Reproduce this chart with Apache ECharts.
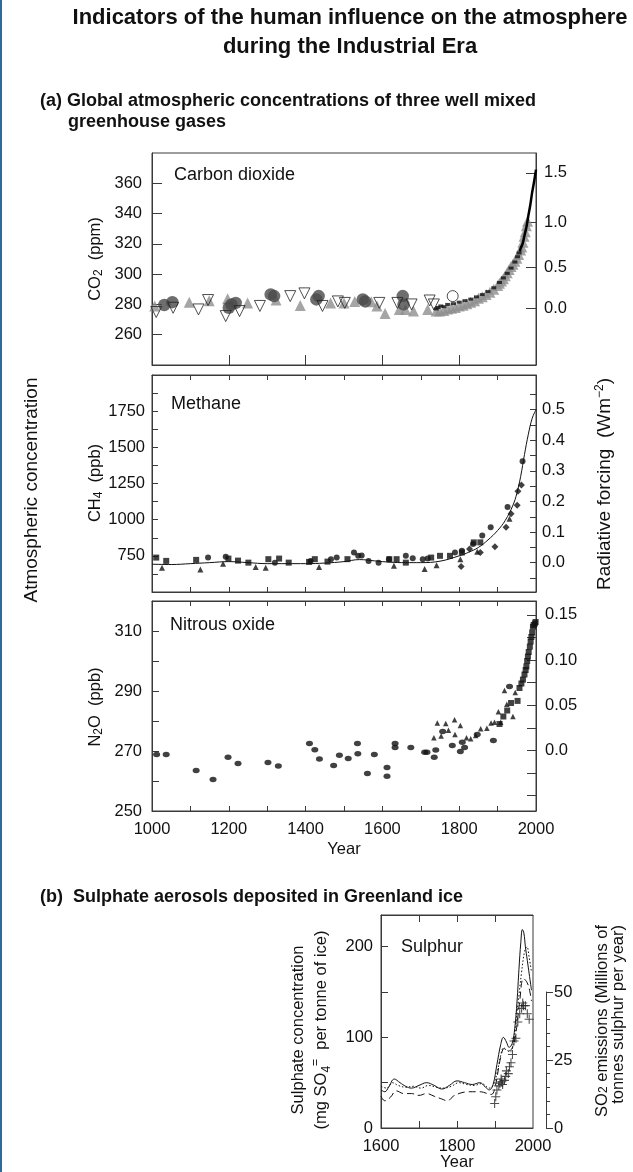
<!DOCTYPE html>
<html><head><meta charset="utf-8">
<script src="https://cdn.jsdelivr.net/npm/echarts@6/dist/echarts.min.js"></script>
<style>html,body{margin:0;padding:0;background:#fff}#c{width:633px;height:1172px}</style>
</head><body><div id="c"></div>
<script>
const FONT = '"Liberation Sans", Arial, Helvetica, sans-serif';

// ---------- axis ranges & tick labels ----------
const yearRange = [1000, 2000];
const co2Range = [240, 380];
const ch4Range = [500, 2000];
const n2oRange = [250, 320];
const sulYearRange = [1600, 2000];
const sulRange = [0, 235];
const so2Range = [0, 50];

const yearLabels = [1000, 1200, 1400, 1600, 1800, 2000];
const yearTicks = [1100, 1200, 1300, 1400, 1500, 1600, 1700, 1800, 1900];
const co2YearTicks = [1200, 1400, 1600, 1800];
const co2Labels = [260, 280, 300, 320, 340, 360];
const co2ForcingLabels = [0, 0.5, 1.0, 1.5];
const ch4Labels = [750, 1000, 1250, 1500, 1750];
const ch4Ticks = [625, 750, 875, 1000, 1125, 1250, 1375, 1500, 1625, 1750, 1875];
const ch4ForcingLabels = [0, 0.1, 0.2, 0.3, 0.4, 0.5];
const ch4ForcingTicks = [-0.05, 0, 0.05, 0.1, 0.15, 0.2, 0.25, 0.3, 0.35, 0.4, 0.45, 0.5, 0.55];
const n2oLabels = [250, 270, 290, 310];
const n2oTicks = [260, 270, 280, 290, 300, 310];
const n2oForcingLabels = [0, 0.05, 0.10, 0.15];
const n2oForcingTicks = [-0.05, -0.025, 0, 0.025, 0.05, 0.075, 0.1, 0.125, 0.15];
const sulYearLabels = [1600, 1800, 2000];
const sulYearTicks = [1700, 1800, 1900];
const sulLabels = [0, 100, 200];
const sulTicks = [50, 100, 150, 200];

// radiative forcing relations
const CO2_REF = 277.2;                       // ppm at 0 W/m2
const co2FromForcing = f => CO2_REF * Math.exp(f / 5.35);
const co2ToForcing = c => 5.35 * Math.log(c / CO2_REF);
const ch4ToForcing = m => (m - 703) / 2114;
const n2oToForcing = n => (n - 270.2) * 0.00332;
const SO2_PER_SULPHATE = 1 / 3;              // right scale 50 <-> left 150

// ---------- CO2 (ppm) ----------
const co2DarkCircles = [[1032,279.6],[1053,281.5],[1200,277.8],[1207,280],[1218,281],[1309,286.6],[1318,285.5],[1428,283.3],[1434,285.5],[1549,283.3],[1555,282],[1653,285.5],[1655,280]];
const co2OpenTriangles = [[1011,275],[1055,277.8],[1121,276.7],[1146,282.9],[1192,272.3],[1228,275.6],[1281,279],[1360,285.5],[1397,287.3],[1444,279],[1484,282],[1502,281],[1592,281],[1639,281],[1676,280],[1723,282.6],[1734,280]];
const co2GreyTriangles = [[1007,279],[1097,281.5],[1149,282.4],[1197,283.7],[1249,281],[1323,282.9],[1386,279.3],[1465,281],[1500,281],[1528,282],[1571,281.8],[1586,279],[1607,274],[1644,276.7],[1660,276.7],[1681,275.6],[1718,276.7],[1740,275.6],[1749,275.6],[1760,276],[1770,277],[1780,277.5],[1790,278],[1800,279],[1810,279.5],[1820,280.5],[1830,281.5],[1840,282.5],[1850,284],[1860,285],[1870,286.5],[1880,288],[1890,290],[1900,292.5],[1905,294],[1910,295.5],[1915,297],[1920,299],[1925,301],[1930,303],[1935,305],[1940,306.5],[1945,308.5],[1950,310.5],[1955,313],[1960,316],[1963,318],[1966,321],[1969,325],[1972,328],[1975,332],[1978,335]];
const co2OpenCircles = [[1783,285.5]];
const co2BlackMarks = [[1740,277],[1745,278],[1752,279],[1760,278.5],[1770,280],[1785,280.5],[1800,281.5],[1815,282.5],[1830,283.5],[1845,285],[1860,286.5],[1875,288.5],[1890,291],[1905,294.5],[1915,297.5],[1925,300.5],[1935,304],[1945,308],[1952,311.5],[1956,314]];
const co2MaunaLoa = [[1958,315],[1960,317],[1965,320],[1970,325.5],[1975,331],[1980,338.5],[1985,345.5],[1990,354],[1995,361],[2000,369]];

// ---------- CH4 (ppb) ----------
const ch4Squares = [[1011,738],[1037,715],[1115,722],[1199,731],[1224,717],[1251,703],[1303,727],[1331,731],[1356,703],[1409,708],[1424,727],[1457,710],[1509,727],[1618,727],[1637,727],[1661,703],[1727,738],[1750,750],[1776,750],[1807,773],[1838,843],[1855,843]];
const ch4Circles = [[1146,738],[1192,743],[1320,703],[1413,715],[1466,727],[1481,738],[1526,773],[1537,750],[1546,752],[1564,715],[1590,703],[1617,727],[1661,750],[1679,734],[1705,727],[1718,731],[1789,773],[1807,785],[1836,832],[1860,890],[1882,948],[1926,1088],[1965,1404]];
const ch4Triangles = [[1026,668],[1126,656],[1185,696],[1270,673],[1296,668],[1435,673],[1630,682],[1710,659],[1741,685],[1803,727],[1847,778],[1931,1006]];
const ch4Diamonds = [[1805,677],[1827,797],[1855,773],[1893,813],[1922,948],[1935,1041],[1951,1099],[1953,1197],[1962,1240]];
const ch4Fit = [[1000,692],[1050,690],[1100,696],[1150,703],[1200,710],[1250,703],[1300,696],[1350,696],[1400,696],[1450,700],[1500,710],[1540,724],[1580,715],[1620,706],[1660,703],[1700,703],[1750,713],[1800,750],[1825,775],[1850,808],[1875,860],[1900,925],[1920,995],[1940,1100],[1950,1181],[1960,1298],[1970,1450],[1980,1590],[1990,1700],[2000,1760]];

// ---------- N2O (ppb) ----------
const n2oCircles = [[1012,268.8],[1037,268.8],[1115,263.5],[1159,260.5],[1198,267.9],[1224,265.8],[1302,266.2],[1329,265],[1410,272.5],[1424,270.4],[1436,267.3],[1473,265.2],[1488,268.6],[1511,267.5],[1535,272.5],[1536,269.1],[1561,262.5],[1579,268.8],[1612,264.5],[1612,261.6],[1633,272.5],[1633,271.2],[1674,271.2],[1710,269.6],[1716,269.6],[1735,267.9],[1739,270.3],[1757,276.5],[1782,271.8],[1803,269.8],[1808,272.9],[1814,271.2],[1847,275.5],[1889,273.5],[1931,291.5]];
const n2oTriangles = [[1734,274.4],[1743,279.3],[1753,275],[1765,279.2],[1772,276.9],[1788,280.4],[1789,275.5],[1803,278.5],[1819,274.4],[1830,274.1],[1843,275.2],[1856,277.4],[1872,277.6],[1883,279.3],[1892,279.6],[1902,283.1],[1908,279.6],[1918,290.2],[1924,285.6],[1940,281.5],[1946,289.5]];
const n2oSquares = [[1905,279],[1915,281.5],[1925,283.5],[1935,286],[1952,286.7],[1957,291],[1962,292.5],[1966,293.8],[1970,295.5],[1973,297],[1975,298.2],[1977,300],[1979,301.5],[1981,303],[1984,304.8],[1986,306.5],[1988,308],[1990,309.5],[1992,311.4],[1994,312],[1997,312.5],[1999,313]];

// ---------- Sulphate (mg SO4 per tonne of ice) ----------
const sulSolid = [[1600,42],[1610,40],[1620,45],[1635,54],[1650,50],[1665,46],[1680,44],[1700,47],[1720,50],[1740,47],[1760,43],[1780,47],[1800,52],[1820,50],[1840,48],[1860,50],[1875,45],[1885,42],[1895,48],[1905,70],[1915,92],[1922,100],[1930,95],[1937,89],[1945,93],[1952,110],[1958,140],[1963,175],[1968,205],[1972,219],[1976,215],[1980,200],[1985,185],[1990,170],[1996,152]];
const sulDotted = [[1600,46],[1615,44],[1630,50],[1645,47],[1665,45],[1685,46],[1705,44],[1725,47],[1745,45],[1765,44],[1785,46],[1805,50],[1825,48],[1845,47],[1865,49],[1885,44],[1895,47],[1905,60],[1915,80],[1922,88],[1930,86],[1940,84],[1950,98],[1960,135],[1970,172],[1978,195],[1984,200],[1990,188],[1996,172]];
const sulDashed = [[1600,35],[1610,30],[1625,34],[1640,41],[1660,38],[1680,38],[1700,36],[1720,38],[1740,35],[1760,32],[1775,30],[1790,35],[1805,38],[1830,40],[1860,40],[1890,37],[1900,45],[1915,78],[1925,88],[1935,85],[1945,88],[1955,105],[1965,140],[1975,165],[1985,160],[1992,150],[1996,140]];
// SO2 emissions (millions of tonnes sulphur per year, right scale)
const so2Emissions = [[1899,9],[1902,11.5],[1905,14],[1910,15.5],[1913,16.5],[1916,18],[1918,17],[1920,16],[1925,17.5],[1928,19],[1930,21],[1935,20],[1938,22.5],[1942,24],[1946,27],[1950,32],[1955,33],[1960,39],[1965,42],[1970,44],[1973,46],[1975,45],[1980,45],[1985,42],[1990,40]];

// ---------- chart ----------
const BLACK = '#111';
const FRAME = '#3a3a3a';
const TICK_FS = 16.5;
const plain = v => String(v);

function gridBox(left, top, width, height) {
  return { left, top, width, height, show: true, borderColor: FRAME, borderWidth: 1, backgroundColor: 'transparent', containLabel: false };
}
function xAx(gridIndex, range, ticks, tickLen, labels, position) {
  return {
    type: 'value', gridIndex, min: range[0], max: range[1], position: position || 'bottom',
    axisLine: { show: true, onZero: false, lineStyle: { color: FRAME, width: 1 } },
    axisTick: { show: true, inside: true, length: tickLen, customValues: ticks, lineStyle: { color: FRAME } },
    axisLabel: labels ? { show: true, customValues: labels, margin: 10, color: BLACK, fontSize: TICK_FS, fontFamily: FONT, formatter: plain } : { show: false },
    splitLine: { show: false }
  };
}
function yAx(gridIndex, range, ticks, tickLen, labels, position, fmt, margin) {
  return {
    type: 'value', gridIndex, min: range[0], max: range[1], position: position || 'left',
    axisLine: { show: true, onZero: false, lineStyle: { color: FRAME, width: 1 } },
    axisTick: { show: true, inside: true, length: tickLen, customValues: ticks, lineStyle: { color: FRAME } },
    axisLabel: { show: true, customValues: labels, margin: margin == null ? 10 : margin, color: BLACK, fontSize: TICK_FS, fontFamily: FONT, formatter: fmt || plain },
    splitLine: { show: false }
  };
}
const fmt1 = v => Math.abs(v) < 1e-9 ? '0.0' : (Math.round(v * 10) / 10).toFixed(1);
const fmtN2O = v => Math.abs(v) < 1e-9 ? '0.0' : v.toFixed(2);

const co2ForcingTicksPpm = co2ForcingLabels.map(co2FromForcing);
const ch4ForcingRange = ch4Range.map(ch4ToForcing);
const n2oForcingRange = n2oRange.map(n2oToForcing);
const so2HiddenRange = sulRange.map(v => v * SO2_PER_SULPHATE);

function sc(name, x, y, data, symbol, size, color, extra) {
  return Object.assign({ type: 'scatter', name, xAxisIndex: x, yAxisIndex: y, data, symbol, symbolSize: size, itemStyle: { color }, silent: true }, extra || {});
}
const PLUS = 'path://M4.4,0h1.2v4.4h4.4v1.2h-4.4v4.4h-1.2v-4.4h-4.4v-1.2h4.4z';

function txt(x, y, text, size, opts) {
  return Object.assign({ type: 'text', x, y, silent: true, style: Object.assign({ text, fill: BLACK, fontSize: size, fontFamily: FONT, align: 'left', verticalAlign: 'middle' }, opts || {}) });
}
const richSub = { s: { fontSize: 12, fontFamily: FONT, fill: BLACK, verticalAlign: 'bottom', lineHeight: 12 }, u: { fontSize: 12, fontFamily: FONT, fill: BLACK, verticalAlign: 'top', lineHeight: 12 } };

const option = {
  animation: false,
  backgroundColor: '#fff',
  grid: [
    gridBox(152, 153, 384, 212),
    gridBox(152, 375, 384, 217),
    gridBox(152, 601, 384, 210),
    gridBox(381, 915, 152, 213),
    { left: 545, top: 992, width: 1, height: 136, show: false }
  ],
  xAxis: [
    xAx(0, yearRange, co2YearTicks, 10, null),
    xAx(1, yearRange, yearTicks, 5, null),
    xAx(1, yearRange, yearTicks, 5, null, 'top'),
    xAx(2, yearRange, yearTicks, 5, yearLabels),
    xAx(2, yearRange, yearTicks, 5, null, 'top'),
    xAx(3, sulYearRange, sulYearTicks, 7, sulYearLabels),
    xAx(3, sulYearRange, sulYearTicks, 7, null, 'top'),
    { type: 'value', gridIndex: 4, show: false, min: 0, max: 1 }
  ],
  yAxis: [
    yAx(0, co2Range, co2Labels, 10, co2Labels, 'left'),
    yAx(0, co2Range, co2ForcingTicksPpm, 10, co2ForcingTicksPpm, 'right', v => fmt1(co2ToForcing(v)), 8),
    yAx(1, ch4Range, ch4Ticks, 6, ch4Labels, 'left', null, 7),
    yAx(1, ch4ForcingRange, ch4ForcingTicks, 6, ch4ForcingLabels, 'right', fmt1, 6),
    yAx(2, n2oRange, n2oTicks, 7, n2oLabels, 'left'),
    yAx(2, n2oForcingRange, n2oForcingTicks, 9, n2oForcingLabels, 'right', fmtN2O, 9),
    yAx(3, sulRange, sulTicks, 7, sulLabels, 'left', null, 8),
    { type: 'value', gridIndex: 3, show: false, min: so2HiddenRange[0], max: so2HiddenRange[1], position: 'right' },
    {
      type: 'value', gridIndex: 4, min: so2Range[0], max: so2Range[1], interval: 25, position: 'right',
      axisLine: { show: true, onZero: false, lineStyle: { color: FRAME } },
      axisTick: { show: true, inside: false, length: 7, lineStyle: { color: FRAME } },
      minorTick: { show: true, splitNumber: 5, length: 4, lineStyle: { color: FRAME } },
      axisLabel: { margin: 8, color: BLACK, fontSize: TICK_FS, fontFamily: FONT, formatter: plain },
      splitLine: { show: false }
    }
  ],
  series: [
    // CO2
    sc('co2 grey', 0, 0, co2GreyTriangles, 'triangle', 11, '#8e8e8e'),
    sc('co2 dark', 0, 0, co2DarkCircles, 'circle', 12.5, '#4a4a4a'),
    sc('co2 open tri', 0, 0, co2OpenTriangles, 'triangle', 11, 'rgba(255,255,255,0)', { symbolRotate: 180, itemStyle: { color: 'rgba(255,255,255,0)', borderColor: '#222', borderWidth: 1 } }),
    sc('co2 open circ', 0, 0, co2OpenCircles, 'circle', 11, 'rgba(255,255,255,0)', { itemStyle: { color: 'rgba(255,255,255,0)', borderColor: '#222', borderWidth: 1 } }),
    sc('co2 black', 0, 0, co2BlackMarks, 'rect', [5, 3], '#111'),
    { type: 'line', name: 'co2 line', xAxisIndex: 0, yAxisIndex: 0, data: co2MaunaLoa, symbol: 'none', smooth: 0.3, lineStyle: { color: '#000', width: 2.5 }, silent: true, z: 5 },
    // CH4
    { type: 'line', name: 'ch4 fit', xAxisIndex: 1, yAxisIndex: 2, data: ch4Fit, symbol: 'none', smooth: 0.4, lineStyle: { color: '#111', width: 1 }, silent: true },
    sc('ch4 sq', 1, 2, ch4Squares, 'rect', 6, '#111'),
    sc('ch4 circ', 1, 2, ch4Circles, 'circle', 6, '#111'),
    sc('ch4 tri', 1, 2, ch4Triangles, 'triangle', 6, '#111'),
    sc('ch4 dia', 1, 2, ch4Diamonds, 'diamond', 7, '#111'),
    // N2O
    sc('n2o circ', 3, 4, n2oCircles, 'circle', [7, 5.5], '#111'),
    sc('n2o tri', 3, 4, n2oTriangles, 'triangle', 5.5, '#111'),
    sc('n2o sq', 3, 4, n2oSquares, 'rect', 6, '#111'),
    // Sulphate
    { type: 'line', name: 'sul solid', xAxisIndex: 5, yAxisIndex: 6, data: sulSolid, symbol: 'none', smooth: 0.4, lineStyle: { color: '#111', width: 1 }, silent: true },
    { type: 'line', name: 'sul dotted', xAxisIndex: 5, yAxisIndex: 6, data: sulDotted, symbol: 'none', smooth: 0.4, lineStyle: { color: '#111', width: 1, type: [1.5, 2] }, silent: true },
    { type: 'line', name: 'sul dashed', xAxisIndex: 5, yAxisIndex: 6, data: sulDashed, symbol: 'none', smooth: 0.4, lineStyle: { color: '#111', width: 1, type: [7, 4] }, silent: true },
    sc('so2', 5, 7, so2Emissions, PLUS, 9, '#222')
  ],
  graphic: [
    { type: 'rect', shape: { x: 0, y: 0, width: 2, height: 1172 }, style: { fill: '#2f6c9c' }, silent: true },
    txt(350, 18, 'Indicators of the human influence on the atmosphere', 22, { fontWeight: 'bold', align: 'center' }),
    txt(350, 47, 'during the Industrial Era', 22, { fontWeight: 'bold', align: 'center' }),
    txt(40, 101, '(a) Global atmospheric concentrations of three well mixed', 18, { fontWeight: 'bold' }),
    txt(68, 122, 'greenhouse gases', 18, { fontWeight: 'bold' }),
    txt(40, 897, '(b)  Sulphate aerosols deposited in Greenland ice', 18, { fontWeight: 'bold' }),
    txt(174, 175, 'Carbon dioxide', 18),
    txt(171, 404, 'Methane', 18),
    txt(170, 625, 'Nitrous oxide', 18),
    txt(401, 947, 'Sulphur', 18),
    txt(344, 849, 'Year', 16.5, { align: 'center' }),
    txt(457, 1162, 'Year', 16.5, { align: 'center' }),
    Object.assign(txt(95, 259, 'CO{s|2}  (ppm)', 16.5, { align: 'center', lineHeight: 20, rich: richSub }), { rotation: Math.PI / 2 }),
    Object.assign(txt(95, 483, 'CH{s|4}  (ppb)', 16.5, { align: 'center', lineHeight: 20, rich: richSub }), { rotation: Math.PI / 2 }),
    Object.assign(txt(95, 707, 'N{s|2}O  (ppb)', 16.5, { align: 'center', lineHeight: 20, rich: richSub }), { rotation: Math.PI / 2 }),
    Object.assign(txt(32, 490, 'Atmospheric concentration', 19, { align: 'center' }), { rotation: Math.PI / 2 }),
    Object.assign(txt(605, 484, 'Radiative forcing  (Wm{u|−2})', 19, { align: 'center', lineHeight: 22, rich: richSub }), { rotation: Math.PI / 2 }),
    Object.assign(txt(310, 1030, 'Sulphate concentration\n(mg SO{s|4}{u|=}  per tonne of ice)', 16.5, { align: 'center', lineHeight: 23, rich: richSub }), { rotation: Math.PI / 2 }),
    Object.assign(txt(610, 925, 'SO{s|2} emissions (Millions of\ntonnes sulphur per year)', 16.5, { align: 'right', lineHeight: 16, rich: richSub }), { rotation: Math.PI / 2 })
  ]
};

const chart = echarts.init(document.getElementById('c'), null, { renderer: 'canvas' });
chart.setOption(option);
</script></body></html>
